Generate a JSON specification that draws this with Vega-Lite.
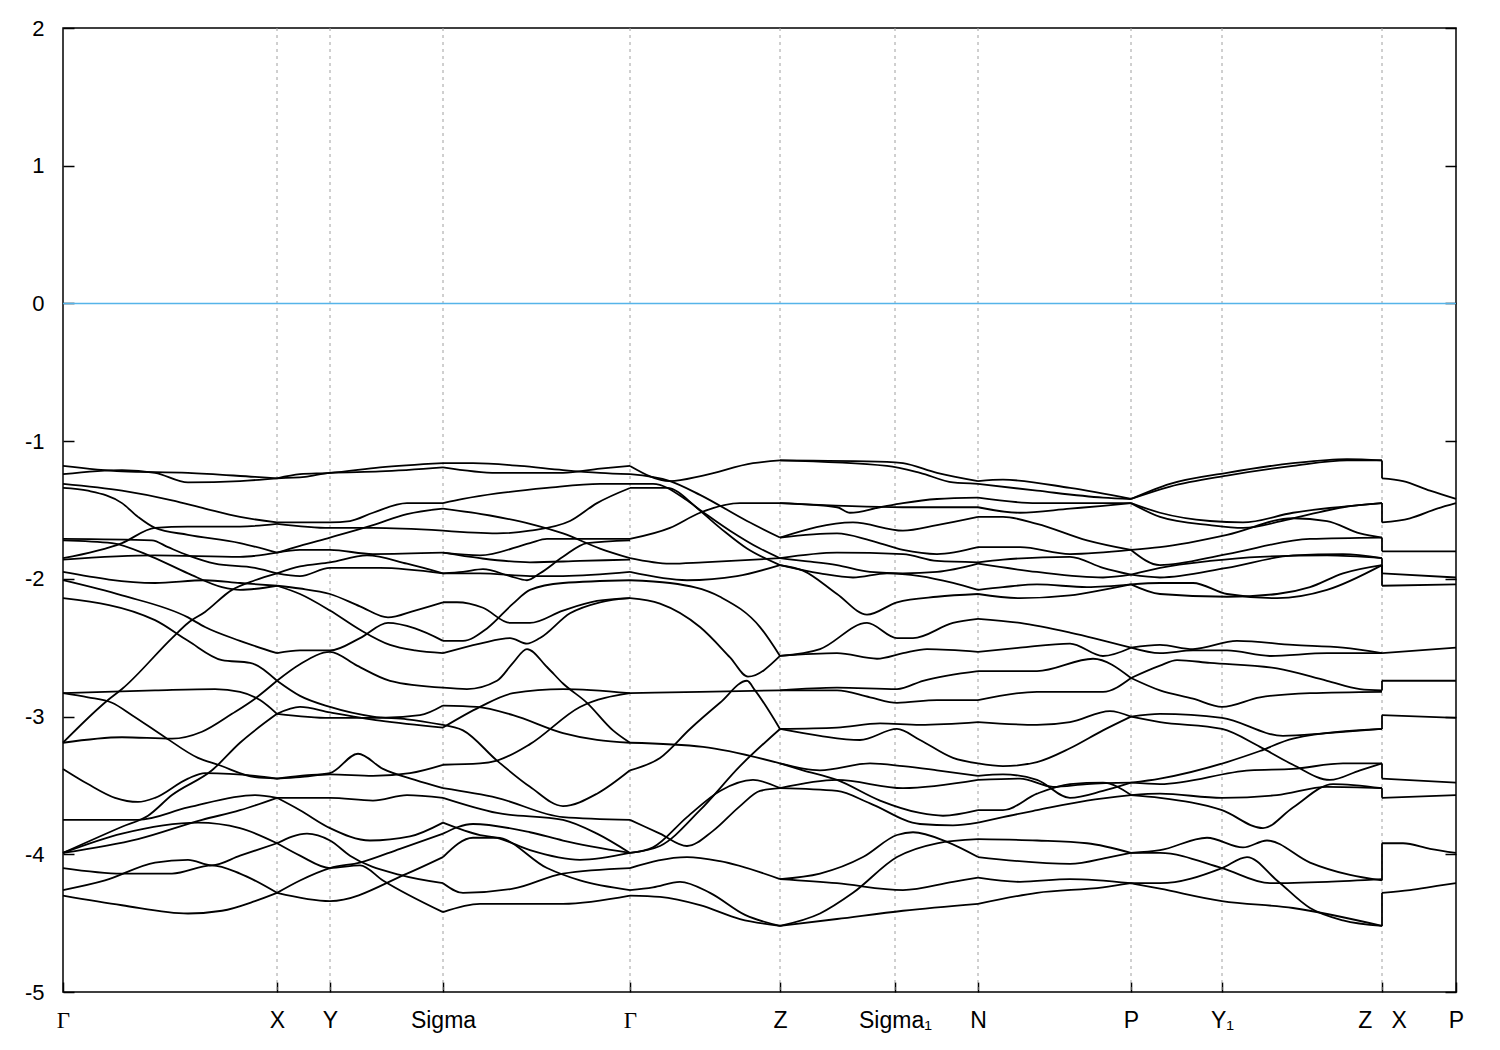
{
"$schema": "https://vega.github.io/schema/vega-lite/v6.json",
"width": 1393, "height": 964,
"autosize": {"type": "none"},
"padding": {"left": 63, "top": 28, "right": 44, "bottom": 58},
"background": "white",
"datasets": {
"sym": [{"k":2.14},{"k":2.67},{"k":3.8},{"k":5.67},{"k":7.17},{"k":8.32},{"k":9.15},{"k":10.68},{"k":11.59},{"k":13.19}],
"fermi": [{"e":0}],
"jumps": [
{"s":"J1","k":13.19,"e":-1.14},{"s":"J1","k":13.19,"e":-1.27},
{"s":"J2","k":13.19,"e":-1.45},{"s":"J2","k":13.19,"e":-1.59},
{"s":"J3","k":13.19,"e":-1.70},{"s":"J3","k":13.19,"e":-1.80},
{"s":"J4","k":13.19,"e":-1.85},{"s":"J4","k":13.19,"e":-1.96},
{"s":"J5","k":13.19,"e":-1.90},{"s":"J5","k":13.19,"e":-2.05},
{"s":"J6","k":13.19,"e":-2.81},{"s":"J6","k":13.19,"e":-2.74},
{"s":"J7","k":13.19,"e":-3.09},{"s":"J7","k":13.19,"e":-2.99},
{"s":"J8","k":13.19,"e":-3.34},{"s":"J8","k":13.19,"e":-3.45},
{"s":"J9","k":13.19,"e":-3.52},{"s":"J9","k":13.19,"e":-3.59},
{"s":"J10","k":13.19,"e":-4.19},{"s":"J10","k":13.19,"e":-3.92},
{"s":"J11","k":13.19,"e":-4.52},{"s":"J11","k":13.19,"e":-4.28}
],
"bands": [
{"s":"A1","k":0,"e":-1.18},{"s":"A1","k":0.59,"e":-1.22},{"s":"A1","k":1.25,"e":-1.23},{"s":"A1","k":1.92,"e":-1.26},{"s":"A1","k":2.14,"e":-1.27},
{"s":"A2","k":0,"e":-1.24},{"s":"A2","k":0.59,"e":-1.21},{"s":"A2","k":0.92,"e":-1.23},{"s":"A2","k":1.25,"e":-1.30},{"s":"A2","k":1.77,"e":-1.29},{"s":"A2","k":2.14,"e":-1.27},
{"s":"A3","k":0,"e":-1.31},{"s":"A3","k":0.59,"e":-1.36},{"s":"A3","k":1.09,"e":-1.43},{"s":"A3","k":1.42,"e":-1.49},{"s":"A3","k":1.77,"e":-1.55},{"s":"A3","k":2.14,"e":-1.59},
{"s":"A4","k":0,"e":-1.34},{"s":"A4","k":0.25,"e":-1.36},{"s":"A4","k":0.59,"e":-1.45},{"s":"A4","k":0.75,"e":-1.55},{"s":"A4","k":0.92,"e":-1.63},{"s":"A4","k":1.25,"e":-1.68},{"s":"A4","k":1.77,"e":-1.74},{"s":"A4","k":2.14,"e":-1.81},
{"s":"A5","k":0,"e":-1.85},{"s":"A5","k":0.59,"e":-1.74},{"s":"A5","k":0.92,"e":-1.63},{"s":"A5","k":1.25,"e":-1.62},{"s":"A5","k":1.77,"e":-1.62},{"s":"A5","k":2.14,"e":-1.60},
{"s":"A6","k":0,"e":-1.71},{"s":"A6","k":0.89,"e":-1.72},{"s":"A6","k":1.05,"e":-1.77},{"s":"A6","k":1.25,"e":-1.83},{"s":"A6","k":1.52,"e":-1.89},{"s":"A6","k":1.92,"e":-1.92},{"s":"A6","k":2.14,"e":-1.96},
{"s":"A7","k":0,"e":-1.72},{"s":"A7","k":0.49,"e":-1.74},{"s":"A7","k":0.89,"e":-1.84},{"s":"A7","k":1.25,"e":-1.96},{"s":"A7","k":1.59,"e":-2.06},{"s":"A7","k":1.77,"e":-2.08},{"s":"A7","k":2.14,"e":-2.05},
{"s":"A8","k":0,"e":-1.86},{"s":"A8","k":0.92,"e":-1.83},{"s":"A8","k":1.77,"e":-1.84},{"s":"A8","k":2.14,"e":-1.81},
{"s":"A9","k":0,"e":-1.95},{"s":"A9","k":0.92,"e":-2.03},{"s":"A9","k":1.42,"e":-2.01},{"s":"A9","k":1.77,"e":-2.03},{"s":"A9","k":2.14,"e":-2.05},
{"s":"A10","k":0,"e":-2.01},{"s":"A10","k":0.59,"e":-2.12},{"s":"A10","k":1.25,"e":-2.28},{"s":"A10","k":1.42,"e":-2.35},{"s":"A10","k":1.77,"e":-2.45},{"s":"A10","k":2.14,"e":-2.54},
{"s":"A11","k":0,"e":-2.14},{"s":"A11","k":0.92,"e":-2.30},{"s":"A11","k":1.25,"e":-2.45},{"s":"A11","k":1.59,"e":-2.59},{"s":"A11","k":1.87,"e":-2.61},{"s":"A11","k":2.14,"e":-2.74},
{"s":"A12","k":0,"e":-3.19},{"s":"A12","k":0.45,"e":-2.88},{"s":"A12","k":0.59,"e":-2.80},{"s":"A12","k":1.09,"e":-2.43},{"s":"A12","k":1.25,"e":-2.32},{"s":"A12","k":1.42,"e":-2.24},{"s":"A12","k":1.69,"e":-2.08},{"s":"A12","k":1.92,"e":-2.01},{"s":"A12","k":2.14,"e":-1.96},
{"s":"A13","k":0,"e":-3.19},{"s":"A13","k":0.59,"e":-3.15},{"s":"A13","k":1.09,"e":-3.16},{"s":"A13","k":1.39,"e":-3.11},{"s":"A13","k":1.69,"e":-2.98},{"s":"A13","k":1.92,"e":-2.87},{"s":"A13","k":2.14,"e":-2.74},
{"s":"A14","k":0,"e":-2.83},{"s":"A14","k":0.92,"e":-2.81},{"s":"A14","k":1.52,"e":-2.80},{"s":"A14","k":1.77,"e":-2.82},{"s":"A14","k":1.97,"e":-2.88},{"s":"A14","k":2.14,"e":-2.98},
{"s":"A15","k":0,"e":-2.83},{"s":"A15","k":0.25,"e":-2.86},{"s":"A15","k":0.49,"e":-2.90},{"s":"A15","k":0.69,"e":-2.99},{"s":"A15","k":1.02,"e":-3.15},{"s":"A15","k":1.35,"e":-3.30},{"s":"A15","k":1.55,"e":-3.35},{"s":"A15","k":1.92,"e":-3.44},{"s":"A15","k":2.14,"e":-3.45},
{"s":"A16","k":0,"e":-3.38},{"s":"A16","k":0.25,"e":-3.49},{"s":"A16","k":0.52,"e":-3.59},{"s":"A16","k":0.75,"e":-3.62},{"s":"A16","k":0.92,"e":-3.59},{"s":"A16","k":1.25,"e":-3.45},{"s":"A16","k":1.42,"e":-3.41},{"s":"A16","k":1.92,"e":-3.43},{"s":"A16","k":2.14,"e":-3.45},
{"s":"A17","k":0,"e":-3.75},{"s":"A17","k":0.75,"e":-3.75},{"s":"A17","k":1.25,"e":-3.66},{"s":"A17","k":1.92,"e":-3.57},{"s":"A17","k":2.14,"e":-3.59},
{"s":"A18","k":0,"e":-3.99},{"s":"A18","k":0.59,"e":-3.80},{"s":"A18","k":0.85,"e":-3.72},{"s":"A18","k":1.09,"e":-3.57},{"s":"A18","k":1.49,"e":-3.39},{"s":"A18","k":1.77,"e":-3.19},{"s":"A18","k":2.14,"e":-2.98},
{"s":"A19","k":0,"e":-3.99},{"s":"A19","k":0.59,"e":-3.85},{"s":"A19","k":1.35,"e":-3.77},{"s":"A19","k":1.77,"e":-3.81},{"s":"A19","k":2.14,"e":-3.92},
{"s":"A20","k":0,"e":-3.99},{"s":"A20","k":0.75,"e":-3.89},{"s":"A20","k":1.39,"e":-3.75},{"s":"A20","k":1.77,"e":-3.68},{"s":"A20","k":2.14,"e":-3.59},
{"s":"A21","k":0,"e":-4.26},{"s":"A21","k":0.42,"e":-4.19},{"s":"A21","k":0.92,"e":-4.06},{"s":"A21","k":1.25,"e":-4.04},{"s":"A21","k":1.49,"e":-4.08},{"s":"A21","k":1.77,"e":-4.01},{"s":"A21","k":2.14,"e":-3.92},
{"s":"A22","k":0,"e":-4.10},{"s":"A22","k":0.59,"e":-4.14},{"s":"A22","k":1.09,"e":-4.14},{"s":"A22","k":1.49,"e":-4.08},{"s":"A22","k":1.77,"e":-4.14},{"s":"A22","k":2.14,"e":-4.28},
{"s":"A23","k":0,"e":-4.30},{"s":"A23","k":0.59,"e":-4.37},{"s":"A23","k":1.25,"e":-4.43},{"s":"A23","k":1.59,"e":-4.41},{"s":"A23","k":1.92,"e":-4.34},{"s":"A23","k":2.14,"e":-4.28},

{"s":"B1","k":2.14,"e":-1.27},{"s":"B1","k":2.37,"e":-1.24},{"s":"B1","k":2.67,"e":-1.23},{"s":"B1","k":3.17,"e":-1.19},{"s":"B1","k":3.8,"e":-1.16},
{"s":"B2","k":2.14,"e":-1.27},{"s":"B2","k":2.42,"e":-1.26},{"s":"B2","k":2.67,"e":-1.23},{"s":"B2","k":3.17,"e":-1.22},{"s":"B2","k":3.8,"e":-1.19},
{"s":"B3","k":2.14,"e":-1.59},{"s":"B3","k":2.67,"e":-1.59},{"s":"B3","k":2.87,"e":-1.58},{"s":"B3","k":3.10,"e":-1.52},{"s":"B3","k":3.44,"e":-1.45},{"s":"B3","k":3.8,"e":-1.45},
{"s":"B4","k":2.14,"e":-1.60},{"s":"B4","k":2.67,"e":-1.63},{"s":"B4","k":3.10,"e":-1.63},{"s":"B4","k":3.8,"e":-1.65},
{"s":"B5","k":2.14,"e":-1.81},{"s":"B5","k":2.37,"e":-1.76},{"s":"B5","k":2.67,"e":-1.70},{"s":"B5","k":3.10,"e":-1.61},{"s":"B5","k":3.44,"e":-1.53},{"s":"B5","k":3.8,"e":-1.49},
{"s":"B6","k":2.14,"e":-1.81},{"s":"B6","k":2.37,"e":-1.79},{"s":"B6","k":2.67,"e":-1.79},{"s":"B6","k":3.10,"e":-1.82},{"s":"B6","k":3.8,"e":-1.81},
{"s":"B7","k":2.14,"e":-1.96},{"s":"B7","k":2.37,"e":-1.91},{"s":"B7","k":2.67,"e":-1.88},{"s":"B7","k":3.04,"e":-1.83},{"s":"B7","k":3.44,"e":-1.89},{"s":"B7","k":3.8,"e":-1.96},
{"s":"B8","k":2.14,"e":-1.96},{"s":"B8","k":2.37,"e":-1.98},{"s":"B8","k":2.67,"e":-1.92},{"s":"B8","k":3.17,"e":-1.92},{"s":"B8","k":3.8,"e":-1.96},
{"s":"B9","k":2.14,"e":-2.05},{"s":"B9","k":2.37,"e":-2.07},{"s":"B9","k":2.67,"e":-2.11},{"s":"B9","k":2.97,"e":-2.20},{"s":"B9","k":3.25,"e":-2.28},{"s":"B9","k":3.52,"e":-2.23},{"s":"B9","k":3.8,"e":-2.17},
{"s":"B10","k":2.14,"e":-2.05},{"s":"B10","k":2.37,"e":-2.11},{"s":"B10","k":2.67,"e":-2.23},{"s":"B10","k":2.97,"e":-2.37},{"s":"B10","k":3.27,"e":-2.48},{"s":"B10","k":3.52,"e":-2.52},{"s":"B10","k":3.8,"e":-2.54},
{"s":"B11","k":2.14,"e":-2.54},{"s":"B11","k":2.37,"e":-2.52},{"s":"B11","k":2.67,"e":-2.52},{"s":"B11","k":2.97,"e":-2.43},{"s":"B11","k":3.25,"e":-2.32},{"s":"B11","k":3.52,"e":-2.36},{"s":"B11","k":3.8,"e":-2.45},
{"s":"B12","k":2.14,"e":-2.74},{"s":"B12","k":2.37,"e":-2.62},{"s":"B12","k":2.67,"e":-2.53},{"s":"B12","k":2.94,"e":-2.63},{"s":"B12","k":3.27,"e":-2.74},{"s":"B12","k":3.8,"e":-2.79},
{"s":"B13","k":2.14,"e":-2.74},{"s":"B13","k":2.37,"e":-2.85},{"s":"B13","k":2.67,"e":-2.93},{"s":"B13","k":3.10,"e":-3.00},{"s":"B13","k":3.44,"e":-3.02},{"s":"B13","k":3.8,"e":-3.06},
{"s":"B14","k":2.14,"e":-2.98},{"s":"B14","k":2.67,"e":-3.01},{"s":"B14","k":3.17,"e":-3.01},{"s":"B14","k":3.57,"e":-2.99},{"s":"B14","k":3.8,"e":-2.92},
{"s":"B15","k":2.14,"e":-2.98},{"s":"B15","k":2.37,"e":-2.93},{"s":"B15","k":2.67,"e":-2.97},{"s":"B15","k":3.17,"e":-3.03},{"s":"B15","k":3.8,"e":-3.08},
{"s":"B16","k":2.14,"e":-3.45},{"s":"B16","k":2.37,"e":-3.43},{"s":"B16","k":2.67,"e":-3.41},{"s":"B16","k":2.95,"e":-3.27},{"s":"B16","k":3.20,"e":-3.38},{"s":"B16","k":3.52,"e":-3.46},{"s":"B16","k":3.8,"e":-3.52},
{"s":"B17","k":2.14,"e":-3.45},{"s":"B17","k":2.37,"e":-3.44},{"s":"B17","k":2.67,"e":-3.42},{"s":"B17","k":3.10,"e":-3.43},{"s":"B17","k":3.47,"e":-3.41},{"s":"B17","k":3.8,"e":-3.35},
{"s":"B18","k":2.14,"e":-3.59},{"s":"B18","k":2.67,"e":-3.59},{"s":"B18","k":3.10,"e":-3.61},{"s":"B18","k":3.44,"e":-3.57},{"s":"B18","k":3.8,"e":-3.59},
{"s":"B19","k":2.14,"e":-3.59},{"s":"B19","k":2.37,"e":-3.68},{"s":"B19","k":2.67,"e":-3.81},{"s":"B19","k":3.07,"e":-3.90},{"s":"B19","k":3.47,"e":-3.87},{"s":"B19","k":3.8,"e":-3.77},
{"s":"B20","k":2.14,"e":-3.92},{"s":"B20","k":2.44,"e":-3.85},{"s":"B20","k":2.67,"e":-3.90},{"s":"B20","k":2.87,"e":-4.01},{"s":"B20","k":3.37,"e":-4.15},{"s":"B20","k":3.8,"e":-4.21},
{"s":"B21","k":2.14,"e":-3.92},{"s":"B21","k":2.37,"e":-4.01},{"s":"B21","k":2.67,"e":-4.10},{"s":"B21","k":2.97,"e":-4.08},{"s":"B21","k":3.20,"e":-4.19},{"s":"B21","k":3.8,"e":-4.42},
{"s":"B22","k":2.14,"e":-4.28},{"s":"B22","k":2.67,"e":-4.34},{"s":"B22","k":3.44,"e":-4.14},{"s":"B22","k":3.8,"e":-4.02},
{"s":"B23","k":2.14,"e":-4.28},{"s":"B23","k":2.37,"e":-4.19},{"s":"B23","k":2.67,"e":-4.10},{"s":"B23","k":2.97,"e":-4.06},{"s":"B23","k":3.37,"e":-3.96},{"s":"B23","k":3.8,"e":-3.85},

{"s":"C1","k":3.8,"e":-1.16},{"s":"C1","k":4.10,"e":-1.16},{"s":"C1","k":4.57,"e":-1.18},{"s":"C1","k":5.00,"e":-1.21},{"s":"C1","k":5.37,"e":-1.23},{"s":"C1","k":5.67,"e":-1.24},
{"s":"C2","k":3.8,"e":-1.19},{"s":"C2","k":4.34,"e":-1.23},{"s":"C2","k":5.00,"e":-1.23},{"s":"C2","k":5.37,"e":-1.20},{"s":"C2","k":5.67,"e":-1.18},
{"s":"C3","k":3.8,"e":-1.45},{"s":"C3","k":4.00,"e":-1.42},{"s":"C3","k":4.34,"e":-1.38},{"s":"C3","k":4.84,"e":-1.34},{"s":"C3","k":5.37,"e":-1.31},{"s":"C3","k":5.67,"e":-1.31},
{"s":"C4","k":3.8,"e":-1.49},{"s":"C4","k":4.27,"e":-1.54},{"s":"C4","k":4.67,"e":-1.60},{"s":"C4","k":5.00,"e":-1.67},{"s":"C4","k":5.37,"e":-1.78},{"s":"C4","k":5.67,"e":-1.85},
{"s":"C5","k":3.8,"e":-1.65},{"s":"C5","k":4.34,"e":-1.67},{"s":"C5","k":4.67,"e":-1.65},{"s":"C5","k":5.07,"e":-1.58},{"s":"C5","k":5.34,"e":-1.45},{"s":"C5","k":5.67,"e":-1.34},
{"s":"C6","k":3.8,"e":-1.81},{"s":"C6","k":4.17,"e":-1.85},{"s":"C6","k":4.67,"e":-1.88},{"s":"C6","k":5.17,"e":-1.87},{"s":"C6","k":5.67,"e":-1.86},
{"s":"C7","k":3.8,"e":-1.81},{"s":"C7","k":4.17,"e":-1.83},{"s":"C7","k":4.67,"e":-1.74},{"s":"C7","k":4.84,"e":-1.71},{"s":"C7","k":5.67,"e":-1.71},
{"s":"C8","k":3.8,"e":-1.96},{"s":"C8","k":4.00,"e":-1.95},{"s":"C8","k":4.20,"e":-1.93},{"s":"C8","k":4.47,"e":-1.98},{"s":"C8","k":4.64,"e":-2.01},{"s":"C8","k":4.77,"e":-1.96},{"s":"C8","k":5.00,"e":-1.84},{"s":"C8","k":5.24,"e":-1.74},{"s":"C8","k":5.67,"e":-1.72},
{"s":"C9","k":3.8,"e":-1.96},{"s":"C9","k":4.17,"e":-1.96},{"s":"C9","k":4.67,"e":-1.98},{"s":"C9","k":5.00,"e":-1.98},{"s":"C9","k":5.67,"e":-1.95},
{"s":"C10","k":3.8,"e":-2.17},{"s":"C10","k":3.94,"e":-2.17},{"s":"C10","k":4.20,"e":-2.21},{"s":"C10","k":4.47,"e":-2.32},{"s":"C10","k":4.67,"e":-2.32},{"s":"C10","k":5.00,"e":-2.23},{"s":"C10","k":5.34,"e":-2.16},{"s":"C10","k":5.67,"e":-2.14},
{"s":"C11","k":3.8,"e":-2.45},{"s":"C11","k":4.00,"e":-2.45},{"s":"C11","k":4.24,"e":-2.36},{"s":"C11","k":4.50,"e":-2.18},{"s":"C11","k":4.67,"e":-2.08},{"s":"C11","k":5.00,"e":-2.03},{"s":"C11","k":5.67,"e":-2.01},
{"s":"C12","k":3.8,"e":-2.54},{"s":"C12","k":4.17,"e":-2.47},{"s":"C12","k":4.47,"e":-2.43},{"s":"C12","k":4.64,"e":-2.47},{"s":"C12","k":4.77,"e":-2.43},{"s":"C12","k":5.07,"e":-2.25},{"s":"C12","k":5.37,"e":-2.17},{"s":"C12","k":5.67,"e":-2.14},
{"s":"C13","k":3.8,"e":-2.79},{"s":"C13","k":4.04,"e":-2.80},{"s":"C13","k":4.34,"e":-2.74},{"s":"C13","k":4.50,"e":-2.61},{"s":"C13","k":4.64,"e":-2.51},{"s":"C13","k":4.84,"e":-2.64},{"s":"C13","k":5.00,"e":-2.76},{"s":"C13","k":5.24,"e":-2.90},{"s":"C13","k":5.50,"e":-3.10},{"s":"C13","k":5.67,"e":-3.19},
{"s":"C14","k":3.8,"e":-2.92},{"s":"C14","k":4.14,"e":-2.93},{"s":"C14","k":4.50,"e":-2.99},{"s":"C14","k":5.00,"e":-3.12},{"s":"C14","k":5.34,"e":-3.17},{"s":"C14","k":5.67,"e":-3.19},
{"s":"C15","k":3.8,"e":-3.08},{"s":"C15","k":4.17,"e":-2.93},{"s":"C15","k":4.50,"e":-2.83},{"s":"C15","k":5.00,"e":-2.80},{"s":"C15","k":5.67,"e":-2.83},
{"s":"C16","k":3.8,"e":-3.06},{"s":"C16","k":4.00,"e":-3.10},{"s":"C16","k":4.34,"e":-3.32},{"s":"C16","k":4.67,"e":-3.51},{"s":"C16","k":5.00,"e":-3.65},{"s":"C16","k":5.34,"e":-3.56},{"s":"C16","k":5.67,"e":-3.39},
{"s":"C17","k":3.8,"e":-3.35},{"s":"C17","k":4.17,"e":-3.34},{"s":"C17","k":4.34,"e":-3.32},{"s":"C17","k":4.67,"e":-3.20},{"s":"C17","k":5.17,"e":-2.93},{"s":"C17","k":5.67,"e":-2.83},
{"s":"C18","k":3.8,"e":-3.52},{"s":"C18","k":4.34,"e":-3.59},{"s":"C18","k":5.00,"e":-3.73},{"s":"C18","k":5.67,"e":-3.75},
{"s":"C19","k":3.8,"e":-3.59},{"s":"C19","k":4.34,"e":-3.70},{"s":"C19","k":5.00,"e":-3.75},{"s":"C19","k":5.34,"e":-3.85},{"s":"C19","k":5.67,"e":-3.99},
{"s":"C20","k":3.8,"e":-3.77},{"s":"C20","k":4.17,"e":-3.86},{"s":"C20","k":4.34,"e":-3.88},{"s":"C20","k":4.67,"e":-3.97},{"s":"C20","k":5.17,"e":-4.04},{"s":"C20","k":5.67,"e":-3.99},
{"s":"C21","k":3.8,"e":-3.85},{"s":"C21","k":4.10,"e":-3.78},{"s":"C21","k":4.67,"e":-3.84},{"s":"C21","k":5.00,"e":-3.90},{"s":"C21","k":5.67,"e":-3.99},
{"s":"C22","k":3.8,"e":-4.02},{"s":"C22","k":4.10,"e":-3.88},{"s":"C22","k":4.34,"e":-3.88},{"s":"C22","k":4.84,"e":-4.10},{"s":"C22","k":5.17,"e":-4.19},{"s":"C22","k":5.67,"e":-4.26},
{"s":"C23","k":3.8,"e":-4.21},{"s":"C23","k":4.00,"e":-4.28},{"s":"C23","k":4.50,"e":-4.25},{"s":"C23","k":5.00,"e":-4.14},{"s":"C23","k":5.67,"e":-4.10},
{"s":"C24","k":3.8,"e":-4.42},{"s":"C24","k":4.17,"e":-4.36},{"s":"C24","k":5.00,"e":-4.36},{"s":"C24","k":5.67,"e":-4.30},

{"s":"D1","k":5.67,"e":-1.18},{"s":"D1","k":6.07,"e":-1.29},{"s":"D1","k":6.40,"e":-1.25},{"s":"D1","k":6.90,"e":-1.16},{"s":"D1","k":7.17,"e":-1.14},
{"s":"D2","k":5.67,"e":-1.24},{"s":"D2","k":6.07,"e":-1.29},{"s":"D2","k":6.37,"e":-1.39},{"s":"D2","k":6.84,"e":-1.58},{"s":"D2","k":7.17,"e":-1.70},
{"s":"D3","k":5.67,"e":-1.31},{"s":"D3","k":5.90,"e":-1.31},{"s":"D3","k":6.24,"e":-1.43},{"s":"D3","k":6.57,"e":-1.63},{"s":"D3","k":6.84,"e":-1.78},{"s":"D3","k":7.17,"e":-1.90},
{"s":"D4","k":5.67,"e":-1.34},{"s":"D4","k":6.04,"e":-1.34},{"s":"D4","k":6.37,"e":-1.50},{"s":"D4","k":6.67,"e":-1.65},{"s":"D4","k":6.97,"e":-1.78},{"s":"D4","k":7.17,"e":-1.85},
{"s":"D5","k":5.67,"e":-1.71},{"s":"D5","k":6.07,"e":-1.63},{"s":"D5","k":6.37,"e":-1.52},{"s":"D5","k":6.77,"e":-1.45},{"s":"D5","k":7.17,"e":-1.45},
{"s":"D6","k":5.67,"e":-1.85},{"s":"D6","k":6.07,"e":-1.89},{"s":"D6","k":6.40,"e":-1.88},{"s":"D6","k":7.17,"e":-1.85},
{"s":"D7","k":5.67,"e":-1.95},{"s":"D7","k":6.24,"e":-2.01},{"s":"D7","k":6.74,"e":-1.98},{"s":"D7","k":7.17,"e":-1.90},
{"s":"D8","k":5.67,"e":-2.01},{"s":"D8","k":6.07,"e":-2.03},{"s":"D8","k":6.57,"e":-2.13},{"s":"D8","k":6.97,"e":-2.35},{"s":"D8","k":7.17,"e":-2.56},
{"s":"D9","k":5.67,"e":-2.14},{"s":"D9","k":5.97,"e":-2.18},{"s":"D9","k":6.37,"e":-2.35},{"s":"D9","k":6.67,"e":-2.57},{"s":"D9","k":6.85,"e":-2.71},{"s":"D9","k":7.17,"e":-2.56},
{"s":"D10","k":5.67,"e":-3.39},{"s":"D10","k":5.97,"e":-3.30},{"s":"D10","k":6.27,"e":-3.09},{"s":"D10","k":6.57,"e":-2.90},{"s":"D10","k":6.84,"e":-2.74},{"s":"D10","k":6.92,"e":-2.81},{"s":"D10","k":7.17,"e":-3.09},
{"s":"D11","k":5.67,"e":-2.83},{"s":"D11","k":6.37,"e":-2.82},{"s":"D11","k":7.17,"e":-2.81},
{"s":"D12","k":5.67,"e":-3.19},{"s":"D12","k":6.40,"e":-3.22},{"s":"D12","k":7.17,"e":-3.34},
{"s":"D13","k":5.67,"e":-3.75},{"s":"D13","k":5.97,"e":-3.85},{"s":"D13","k":6.24,"e":-3.94},{"s":"D13","k":6.50,"e":-3.83},{"s":"D13","k":6.77,"e":-3.65},{"s":"D13","k":6.97,"e":-3.54},{"s":"D13","k":7.17,"e":-3.52},
{"s":"D14","k":5.67,"e":-3.99},{"s":"D14","k":5.90,"e":-3.95},{"s":"D14","k":6.24,"e":-3.73},{"s":"D14","k":6.57,"e":-3.54},{"s":"D14","k":6.90,"e":-3.46},{"s":"D14","k":7.17,"e":-3.52},
{"s":"D15","k":5.67,"e":-3.99},{"s":"D15","k":5.97,"e":-3.94},{"s":"D15","k":6.37,"e":-3.68},{"s":"D15","k":6.77,"e":-3.36},{"s":"D15","k":7.17,"e":-3.09},
{"s":"D16","k":5.67,"e":-4.10},{"s":"D16","k":6.24,"e":-4.02},{"s":"D16","k":6.57,"e":-4.05},{"s":"D16","k":7.17,"e":-4.18},
{"s":"D17","k":5.67,"e":-4.26},{"s":"D17","k":5.90,"e":-4.24},{"s":"D17","k":6.17,"e":-4.20},{"s":"D17","k":6.47,"e":-4.28},{"s":"D17","k":6.82,"e":-4.44},{"s":"D17","k":7.17,"e":-4.52},
{"s":"D18","k":5.67,"e":-4.30},{"s":"D18","k":5.97,"e":-4.31},{"s":"D18","k":6.37,"e":-4.37},{"s":"D18","k":6.77,"e":-4.47},{"s":"D18","k":7.17,"e":-4.52},

{"s":"E1","k":7.17,"e":-1.14},{"s":"E1","k":8.24,"e":-1.15},{"s":"E1","k":8.40,"e":-1.16},{"s":"E1","k":8.74,"e":-1.23},{"s":"E1","k":9.15,"e":-1.29},
{"s":"E2","k":7.17,"e":-1.14},{"s":"E2","k":8.24,"e":-1.18},{"s":"E2","k":8.57,"e":-1.23},{"s":"E2","k":8.90,"e":-1.30},{"s":"E2","k":9.15,"e":-1.31},
{"s":"E3","k":7.17,"e":-1.45},{"s":"E3","k":7.74,"e":-1.48},{"s":"E3","k":7.87,"e":-1.52},{"s":"E3","k":8.17,"e":-1.48},{"s":"E3","k":8.40,"e":-1.45},{"s":"E3","k":8.74,"e":-1.42},{"s":"E3","k":9.15,"e":-1.41},
{"s":"E4","k":7.17,"e":-1.45},{"s":"E4","k":8.40,"e":-1.48},{"s":"E4","k":9.15,"e":-1.48},
{"s":"E5","k":7.17,"e":-1.70},{"s":"E5","k":7.90,"e":-1.59},{"s":"E5","k":8.40,"e":-1.65},{"s":"E5","k":8.74,"e":-1.61},{"s":"E5","k":9.15,"e":-1.55},
{"s":"E6","k":7.17,"e":-1.70},{"s":"E6","k":7.74,"e":-1.67},{"s":"E6","k":8.07,"e":-1.72},{"s":"E6","k":8.40,"e":-1.79},{"s":"E6","k":8.74,"e":-1.82},{"s":"E6","k":9.15,"e":-1.77},
{"s":"E7","k":7.17,"e":-1.85},{"s":"E7","k":7.74,"e":-1.81},{"s":"E7","k":8.40,"e":-1.82},{"s":"E7","k":8.74,"e":-1.87},{"s":"E7","k":9.15,"e":-1.88},
{"s":"E8","k":7.17,"e":-1.85},{"s":"E8","k":7.40,"e":-1.87},{"s":"E8","k":7.74,"e":-1.90},{"s":"E8","k":8.07,"e":-1.95},{"s":"E8","k":8.40,"e":-1.96},{"s":"E8","k":8.74,"e":-1.95},{"s":"E8","k":9.15,"e":-1.89},
{"s":"E9","k":7.17,"e":-1.90},{"s":"E9","k":7.57,"e":-1.96},{"s":"E9","k":7.90,"e":-1.99},{"s":"E9","k":8.24,"e":-1.96},{"s":"E9","k":8.57,"e":-1.98},{"s":"E9","k":8.90,"e":-2.03},{"s":"E9","k":9.15,"e":-2.08},
{"s":"E10","k":7.17,"e":-1.90},{"s":"E10","k":7.40,"e":-1.94},{"s":"E10","k":7.74,"e":-2.11},{"s":"E10","k":8.04,"e":-2.26},{"s":"E10","k":8.34,"e":-2.17},{"s":"E10","k":8.74,"e":-2.13},{"s":"E10","k":9.15,"e":-2.11},
{"s":"E11","k":7.17,"e":-2.56},{"s":"E11","k":7.57,"e":-2.51},{"s":"E11","k":8.04,"e":-2.32},{"s":"E11","k":8.34,"e":-2.43},{"s":"E11","k":8.50,"e":-2.43},{"s":"E11","k":8.90,"e":-2.32},{"s":"E11","k":9.15,"e":-2.29},
{"s":"E12","k":7.17,"e":-2.56},{"s":"E12","k":7.74,"e":-2.54},{"s":"E12","k":8.14,"e":-2.58},{"s":"E12","k":8.40,"e":-2.54},{"s":"E12","k":8.64,"e":-2.51},{"s":"E12","k":9.15,"e":-2.53},
{"s":"E13","k":7.17,"e":-2.81},{"s":"E13","k":7.74,"e":-2.79},{"s":"E13","k":8.34,"e":-2.80},{"s":"E13","k":8.60,"e":-2.74},{"s":"E13","k":9.15,"e":-2.67},
{"s":"E14","k":7.17,"e":-2.81},{"s":"E14","k":7.74,"e":-2.81},{"s":"E14","k":8.07,"e":-2.86},{"s":"E14","k":8.34,"e":-2.90},{"s":"E14","k":8.74,"e":-2.88},{"s":"E14","k":9.15,"e":-2.88},
{"s":"E15","k":7.17,"e":-3.09},{"s":"E15","k":7.74,"e":-3.08},{"s":"E15","k":8.17,"e":-3.05},{"s":"E15","k":8.57,"e":-3.06},{"s":"E15","k":9.15,"e":-3.04},
{"s":"E16","k":7.17,"e":-3.09},{"s":"E16","k":7.57,"e":-3.14},{"s":"E16","k":7.97,"e":-3.17},{"s":"E16","k":8.34,"e":-3.09},{"s":"E16","k":8.57,"e":-3.17},{"s":"E16","k":8.90,"e":-3.30},{"s":"E16","k":9.15,"e":-3.34},
{"s":"E17","k":7.17,"e":-3.34},{"s":"E17","k":7.57,"e":-3.39},{"s":"E17","k":8.07,"e":-3.34},{"s":"E17","k":8.40,"e":-3.36},{"s":"E17","k":8.74,"e":-3.39},{"s":"E17","k":9.15,"e":-3.43},
{"s":"E18","k":7.17,"e":-3.52},{"s":"E18","k":7.74,"e":-3.46},{"s":"E18","k":8.40,"e":-3.52},{"s":"E18","k":9.15,"e":-3.46},
{"s":"E19","k":7.17,"e":-3.52},{"s":"E19","k":7.74,"e":-3.54},{"s":"E19","k":8.07,"e":-3.63},{"s":"E19","k":8.57,"e":-3.78},{"s":"E19","k":8.90,"e":-3.79},{"s":"E19","k":9.15,"e":-3.77},
{"s":"E20","k":7.17,"e":-3.34},{"s":"E20","k":7.40,"e":-3.39},{"s":"E20","k":7.74,"e":-3.46},{"s":"E20","k":8.17,"e":-3.61},{"s":"E20","k":8.57,"e":-3.70},{"s":"E20","k":8.80,"e":-3.72},{"s":"E20","k":9.15,"e":-3.68},
{"s":"E21","k":7.17,"e":-4.18},{"s":"E21","k":7.57,"e":-4.14},{"s":"E21","k":8.00,"e":-4.02},{"s":"E21","k":8.34,"e":-3.86},{"s":"E21","k":8.50,"e":-3.84},{"s":"E21","k":8.84,"e":-3.91},{"s":"E21","k":9.15,"e":-4.02},
{"s":"E22","k":7.17,"e":-4.52},{"s":"E22","k":7.57,"e":-4.43},{"s":"E22","k":7.90,"e":-4.28},{"s":"E22","k":8.34,"e":-4.02},{"s":"E22","k":8.74,"e":-3.92},{"s":"E22","k":9.15,"e":-3.89},
{"s":"E23","k":7.17,"e":-4.18},{"s":"E23","k":7.74,"e":-4.21},{"s":"E23","k":8.40,"e":-4.26},{"s":"E23","k":8.90,"e":-4.20},{"s":"E23","k":9.15,"e":-4.17},
{"s":"E24","k":7.17,"e":-4.52},{"s":"E24","k":7.74,"e":-4.47},{"s":"E24","k":8.40,"e":-4.41},{"s":"E24","k":9.15,"e":-4.36},

{"s":"F1","k":9.15,"e":-1.29},{"s":"F1","k":9.40,"e":-1.28},{"s":"F1","k":10.07,"e":-1.34},{"s":"F1","k":10.68,"e":-1.42},
{"s":"F2","k":9.15,"e":-1.31},{"s":"F2","k":9.74,"e":-1.36},{"s":"F2","k":10.40,"e":-1.41},{"s":"F2","k":10.68,"e":-1.42},
{"s":"F3","k":9.15,"e":-1.41},{"s":"F3","k":9.74,"e":-1.45},{"s":"F3","k":10.40,"e":-1.45},{"s":"F3","k":10.68,"e":-1.45},
{"s":"F4","k":9.15,"e":-1.48},{"s":"F4","k":9.57,"e":-1.52},{"s":"F4","k":10.07,"e":-1.49},{"s":"F4","k":10.40,"e":-1.47},{"s":"F4","k":10.68,"e":-1.45},
{"s":"F5","k":9.15,"e":-1.55},{"s":"F5","k":9.40,"e":-1.55},{"s":"F5","k":9.74,"e":-1.60},{"s":"F5","k":10.24,"e":-1.72},{"s":"F5","k":10.68,"e":-1.79},
{"s":"F6","k":9.15,"e":-1.77},{"s":"F6","k":9.57,"e":-1.77},{"s":"F6","k":10.07,"e":-1.82},{"s":"F6","k":10.68,"e":-1.79},
{"s":"F7","k":9.15,"e":-1.88},{"s":"F7","k":9.40,"e":-1.86},{"s":"F7","k":10.07,"e":-1.84},{"s":"F7","k":10.40,"e":-1.92},{"s":"F7","k":10.68,"e":-1.97},
{"s":"F8","k":9.15,"e":-1.89},{"s":"F8","k":9.74,"e":-1.95},{"s":"F8","k":10.40,"e":-1.99},{"s":"F8","k":10.68,"e":-1.97},
{"s":"F9","k":9.15,"e":-2.08},{"s":"F9","k":9.40,"e":-2.06},{"s":"F9","k":9.74,"e":-2.04},{"s":"F9","k":10.24,"e":-2.06},{"s":"F9","k":10.68,"e":-2.04},
{"s":"F10","k":9.15,"e":-2.11},{"s":"F10","k":9.57,"e":-2.14},{"s":"F10","k":10.07,"e":-2.12},{"s":"F10","k":10.40,"e":-2.08},{"s":"F10","k":10.68,"e":-2.04},
{"s":"F11","k":9.15,"e":-2.29},{"s":"F11","k":9.57,"e":-2.32},{"s":"F11","k":10.07,"e":-2.39},{"s":"F11","k":10.68,"e":-2.50},
{"s":"F12","k":9.15,"e":-2.53},{"s":"F12","k":9.57,"e":-2.50},{"s":"F12","k":10.07,"e":-2.47},{"s":"F12","k":10.40,"e":-2.56},{"s":"F12","k":10.68,"e":-2.50},
{"s":"F13","k":9.15,"e":-2.67},{"s":"F13","k":9.74,"e":-2.67},{"s":"F13","k":10.30,"e":-2.58},{"s":"F13","k":10.68,"e":-2.72},
{"s":"F14","k":9.15,"e":-2.88},{"s":"F14","k":9.74,"e":-2.82},{"s":"F14","k":10.40,"e":-2.82},{"s":"F14","k":10.68,"e":-2.72},
{"s":"F15","k":9.15,"e":-3.04},{"s":"F15","k":9.74,"e":-3.06},{"s":"F15","k":10.07,"e":-3.04},{"s":"F15","k":10.47,"e":-2.96},{"s":"F15","k":10.68,"e":-3.00},
{"s":"F16","k":9.15,"e":-3.34},{"s":"F16","k":9.40,"e":-3.36},{"s":"F16","k":9.74,"e":-3.33},{"s":"F16","k":10.07,"e":-3.23},{"s":"F16","k":10.40,"e":-3.10},{"s":"F16","k":10.68,"e":-3.00},
{"s":"F17","k":9.15,"e":-3.43},{"s":"F17","k":9.40,"e":-3.42},{"s":"F17","k":9.74,"e":-3.46},{"s":"F17","k":10.07,"e":-3.59},{"s":"F17","k":10.40,"e":-3.54},{"s":"F17","k":10.68,"e":-3.48},
{"s":"F18","k":9.15,"e":-3.46},{"s":"F18","k":9.57,"e":-3.45},{"s":"F18","k":9.90,"e":-3.51},{"s":"F18","k":10.24,"e":-3.49},{"s":"F18","k":10.68,"e":-3.48},
{"s":"F19","k":9.15,"e":-3.68},{"s":"F19","k":9.40,"e":-3.68},{"s":"F19","k":9.74,"e":-3.56},{"s":"F19","k":10.07,"e":-3.49},{"s":"F19","k":10.40,"e":-3.48},{"s":"F19","k":10.68,"e":-3.57},
{"s":"F20","k":9.15,"e":-3.77},{"s":"F20","k":9.40,"e":-3.73},{"s":"F20","k":9.74,"e":-3.68},{"s":"F20","k":10.24,"e":-3.61},{"s":"F20","k":10.68,"e":-3.57},
{"s":"F21","k":9.15,"e":-3.89},{"s":"F21","k":9.74,"e":-3.90},{"s":"F21","k":10.24,"e":-3.92},{"s":"F21","k":10.68,"e":-3.99},
{"s":"F22","k":9.15,"e":-4.02},{"s":"F22","k":10.07,"e":-4.07},{"s":"F22","k":10.47,"e":-4.02},{"s":"F22","k":10.68,"e":-3.99},
{"s":"F23","k":9.15,"e":-4.17},{"s":"F23","k":9.57,"e":-4.20},{"s":"F23","k":10.07,"e":-4.18},{"s":"F23","k":10.68,"e":-4.21},
{"s":"F24","k":9.15,"e":-4.36},{"s":"F24","k":9.74,"e":-4.28},{"s":"F24","k":10.40,"e":-4.24},{"s":"F24","k":10.68,"e":-4.21},

{"s":"G1","k":10.68,"e":-1.42},{"s":"G1","k":11.07,"e":-1.31},{"s":"G1","k":11.64,"e":-1.23},{"s":"G1","k":12.30,"e":-1.16},{"s":"G1","k":12.84,"e":-1.13},{"s":"G1","k":13.19,"e":-1.14},
{"s":"G2","k":10.68,"e":-1.42},{"s":"G2","k":11.07,"e":-1.33},{"s":"G2","k":11.64,"e":-1.25},{"s":"G2","k":12.30,"e":-1.18},{"s":"G2","k":12.84,"e":-1.14},{"s":"G2","k":13.19,"e":-1.14},
{"s":"G3","k":10.68,"e":-1.45},{"s":"G3","k":10.97,"e":-1.52},{"s":"G3","k":11.47,"e":-1.58},{"s":"G3","k":11.80,"e":-1.59},{"s":"G3","k":12.30,"e":-1.52},{"s":"G3","k":13.19,"e":-1.45},
{"s":"G4","k":10.68,"e":-1.45},{"s":"G4","k":10.97,"e":-1.55},{"s":"G4","k":11.47,"e":-1.61},{"s":"G4","k":11.80,"e":-1.63},{"s":"G4","k":12.30,"e":-1.56},{"s":"G4","k":12.80,"e":-1.48},{"s":"G4","k":13.19,"e":-1.45},
{"s":"G5","k":10.68,"e":-1.79},{"s":"G5","k":10.97,"e":-1.77},{"s":"G5","k":11.64,"e":-1.68},{"s":"G5","k":12.30,"e":-1.56},{"s":"G5","k":12.64,"e":-1.58},{"s":"G5","k":12.97,"e":-1.67},{"s":"G5","k":13.19,"e":-1.70},
{"s":"G6","k":10.68,"e":-1.79},{"s":"G6","k":10.97,"e":-1.90},{"s":"G6","k":11.64,"e":-1.82},{"s":"G6","k":12.47,"e":-1.71},{"s":"G6","k":13.19,"e":-1.70},
{"s":"G7","k":10.68,"e":-1.97},{"s":"G7","k":10.97,"e":-1.92},{"s":"G7","k":11.47,"e":-1.87},{"s":"G7","k":11.97,"e":-1.84},{"s":"G7","k":12.64,"e":-1.83},{"s":"G7","k":13.19,"e":-1.85},
{"s":"G8","k":10.68,"e":-1.97},{"s":"G8","k":10.97,"e":-1.99},{"s":"G8","k":11.64,"e":-1.92},{"s":"G8","k":12.30,"e":-1.83},{"s":"G8","k":12.80,"e":-1.82},{"s":"G8","k":13.19,"e":-1.85},
{"s":"G9","k":10.68,"e":-2.04},{"s":"G9","k":10.97,"e":-2.03},{"s":"G9","k":11.30,"e":-2.03},{"s":"G9","k":11.64,"e":-2.11},{"s":"G9","k":12.14,"e":-2.14},{"s":"G9","k":12.64,"e":-2.08},{"s":"G9","k":13.19,"e":-1.90},
{"s":"G10","k":10.68,"e":-2.04},{"s":"G10","k":10.97,"e":-2.11},{"s":"G10","k":11.64,"e":-2.13},{"s":"G10","k":12.14,"e":-2.11},{"s":"G10","k":12.47,"e":-2.06},{"s":"G10","k":12.80,"e":-1.96},{"s":"G10","k":13.19,"e":-1.90},
{"s":"G11","k":10.68,"e":-2.50},{"s":"G11","k":10.97,"e":-2.48},{"s":"G11","k":11.30,"e":-2.51},{"s":"G11","k":11.74,"e":-2.45},{"s":"G11","k":12.30,"e":-2.48},{"s":"G11","k":12.80,"e":-2.50},{"s":"G11","k":13.19,"e":-2.54},
{"s":"G12","k":10.68,"e":-2.50},{"s":"G12","k":10.97,"e":-2.54},{"s":"G12","k":11.30,"e":-2.52},{"s":"G12","k":11.64,"e":-2.52},{"s":"G12","k":12.07,"e":-2.56},{"s":"G12","k":12.64,"e":-2.54},{"s":"G12","k":13.19,"e":-2.54},
{"s":"G13","k":10.68,"e":-2.72},{"s":"G13","k":10.97,"e":-2.63},{"s":"G13","k":11.14,"e":-2.59},{"s":"G13","k":11.47,"e":-2.61},{"s":"G13","k":12.14,"e":-2.65},{"s":"G13","k":12.64,"e":-2.74},{"s":"G13","k":12.97,"e":-2.80},{"s":"G13","k":13.19,"e":-2.81},
{"s":"G14","k":10.68,"e":-2.72},{"s":"G14","k":10.97,"e":-2.81},{"s":"G14","k":11.30,"e":-2.87},{"s":"G14","k":11.59,"e":-2.93},{"s":"G14","k":11.97,"e":-2.86},{"s":"G14","k":12.47,"e":-2.83},{"s":"G14","k":13.19,"e":-2.82},
{"s":"G15","k":10.68,"e":-3.00},{"s":"G15","k":10.97,"e":-2.98},{"s":"G15","k":11.59,"e":-3.01},{"s":"G15","k":12.20,"e":-3.14},{"s":"G15","k":12.64,"e":-3.12},{"s":"G15","k":13.19,"e":-3.09},
{"s":"G16","k":10.68,"e":-3.00},{"s":"G16","k":10.97,"e":-3.04},{"s":"G16","k":11.59,"e":-3.09},{"s":"G16","k":11.97,"e":-3.22},{"s":"G16","k":12.30,"e":-3.35},{"s":"G16","k":12.67,"e":-3.46},{"s":"G16","k":12.97,"e":-3.39},{"s":"G16","k":13.19,"e":-3.34},
{"s":"G17","k":10.68,"e":-3.48},{"s":"G17","k":10.97,"e":-3.45},{"s":"G17","k":11.64,"e":-3.33},{"s":"G17","k":11.97,"e":-3.25},{"s":"G17","k":12.30,"e":-3.16},{"s":"G17","k":13.19,"e":-3.09},
{"s":"G18","k":10.68,"e":-3.48},{"s":"G18","k":10.97,"e":-3.49},{"s":"G18","k":11.87,"e":-3.39},{"s":"G18","k":12.30,"e":-3.38},{"s":"G18","k":12.80,"e":-3.34},{"s":"G18","k":13.19,"e":-3.34},
{"s":"G19","k":10.68,"e":-3.57},{"s":"G19","k":10.97,"e":-3.56},{"s":"G19","k":11.59,"e":-3.59},{"s":"G19","k":12.14,"e":-3.57},{"s":"G19","k":12.64,"e":-3.51},{"s":"G19","k":13.19,"e":-3.52},
{"s":"G20","k":10.68,"e":-3.57},{"s":"G20","k":10.97,"e":-3.59},{"s":"G20","k":11.59,"e":-3.68},{"s":"G20","k":12.00,"e":-3.81},{"s":"G20","k":12.30,"e":-3.66},{"s":"G20","k":12.70,"e":-3.49},{"s":"G20","k":13.19,"e":-3.52},
{"s":"G21","k":10.68,"e":-3.99},{"s":"G21","k":10.97,"e":-3.97},{"s":"G21","k":11.44,"e":-3.88},{"s":"G21","k":11.80,"e":-3.95},{"s":"G21","k":12.04,"e":-3.90},{"s":"G21","k":12.47,"e":-4.06},{"s":"G21","k":12.87,"e":-4.15},{"s":"G21","k":13.19,"e":-4.19},
{"s":"G22","k":10.68,"e":-3.99},{"s":"G22","k":10.97,"e":-3.99},{"s":"G22","k":11.59,"e":-4.10},{"s":"G22","k":12.07,"e":-4.21},{"s":"G22","k":12.64,"e":-4.20},{"s":"G22","k":13.19,"e":-4.18},
{"s":"G23","k":10.68,"e":-4.21},{"s":"G23","k":10.97,"e":-4.21},{"s":"G23","k":11.59,"e":-4.10},{"s":"G23","k":11.84,"e":-4.02},{"s":"G23","k":12.14,"e":-4.19},{"s":"G23","k":12.47,"e":-4.39},{"s":"G23","k":12.80,"e":-4.48},{"s":"G23","k":13.19,"e":-4.52},
{"s":"G24","k":10.68,"e":-4.21},{"s":"G24","k":10.97,"e":-4.25},{"s":"G24","k":11.59,"e":-4.34},{"s":"G24","k":12.30,"e":-4.39},{"s":"G24","k":13.19,"e":-4.52},

{"s":"H1","k":13.19,"e":-1.27},{"s":"H1","k":13.40,"e":-1.29},{"s":"H1","k":13.67,"e":-1.36},{"s":"H1","k":13.93,"e":-1.42},
{"s":"H2","k":13.19,"e":-1.59},{"s":"H2","k":13.47,"e":-1.56},{"s":"H2","k":13.74,"e":-1.49},{"s":"H2","k":13.93,"e":-1.45},
{"s":"H3","k":13.19,"e":-1.80},{"s":"H3","k":13.93,"e":-1.80},
{"s":"H4","k":13.19,"e":-1.96},{"s":"H4","k":13.93,"e":-1.99},
{"s":"H5","k":13.19,"e":-2.05},{"s":"H5","k":13.93,"e":-2.04},
{"s":"H6","k":13.19,"e":-2.54},{"s":"H6","k":13.93,"e":-2.50},
{"s":"H7","k":13.19,"e":-2.74},{"s":"H7","k":13.93,"e":-2.74},
{"s":"H8","k":13.19,"e":-2.99},{"s":"H8","k":13.93,"e":-3.01},
{"s":"H9","k":13.19,"e":-3.45},{"s":"H9","k":13.93,"e":-3.48},
{"s":"H10","k":13.19,"e":-3.59},{"s":"H10","k":13.93,"e":-3.57},
{"s":"H11","k":13.19,"e":-3.92},{"s":"H11","k":13.40,"e":-3.92},{"s":"H11","k":13.67,"e":-3.96},{"s":"H11","k":13.93,"e":-3.99},
{"s":"H12","k":13.19,"e":-4.28},{"s":"H12","k":13.47,"e":-4.26},{"s":"H12","k":13.74,"e":-4.23},{"s":"H12","k":13.93,"e":-4.21}
]
},
"layer": [
{
"data": {"name": "sym"},
"mark": {"type": "rule", "color": "#a0a0a0", "strokeWidth": 1, "strokeDash": [3, 4]},
"encoding": {
"x": {"field": "k", "type": "quantitative", "scale": {"domain": [0, 13.93], "nice": false, "zero": false}}
}
},
{
"data": {"name": "fermi"},
"mark": {"type": "rule", "color": "#56B4E9", "strokeWidth": 1.5},
"encoding": {
"y": {"field": "e", "type": "quantitative", "scale": {"domain": [-5, 2], "nice": false},
"axis": {"orient": "right", "values": [-5, -4, -3, -2, -1, 0, 1, 2], "labels": false, "tickSize": -11, "tickColor": "#000", "tickWidth": 1.5, "domain": false, "grid": false, "title": null}}
}
},
{
"data": {"name": "jumps"},
"mark": {"type": "line", "color": "#000", "strokeWidth": 1.8},
"encoding": {
"x": {"field": "k", "type": "quantitative", "scale": {"domain": [0, 13.93], "nice": false, "zero": false}},
"y": {"field": "e", "type": "quantitative", "scale": {"domain": [-5, 2], "nice": false}, "axis": null},
"detail": {"field": "s", "type": "nominal"}
}
},
{
"data": {"name": "bands"},
"mark": {"type": "line", "color": "#000", "strokeWidth": 1.8, "strokeJoin": "round", "interpolate": "monotone"},
"encoding": {
"x": {"field": "k", "type": "quantitative", "scale": {"domain": [0, 13.93], "nice": false, "zero": false},
"axis": {"values": [0, 2.14, 2.67, 3.8, 5.67, 7.17, 8.32, 9.15, 10.68, 11.59, 13.19, 13.93],
"labelExpr": "datum.value == 0 ? 'Γ' : datum.value == 2.14 ? 'X' : datum.value == 2.67 ? 'Y' : datum.value == 3.8 ? 'Sigma' : datum.value == 5.67 ? 'Γ' : datum.value == 7.17 ? 'Z' : datum.value == 8.32 ? 'Sigma₁' : datum.value == 9.15 ? 'N' : datum.value == 10.68 ? 'P' : datum.value == 11.59 ? 'Y₁' : datum.value == 13.19 ? 'Z\u00a0\u00a0\u00a0X' : 'P'",
"tickSize": -10, "tickColor": "#000", "tickWidth": 1.5, "labelPadding": 45, "labelBaseline": "alphabetic",
"labelFont": {"condition": {"test": "datum.value == 0 || datum.value == 5.67", "value": "Liberation Serif"}, "value": "Liberation Sans"},
"labelFontSize": 23, "labelColor": "#000",
"labelFlush": false, "labelOverlap": false, "grid": false, "domain": false, "title": null}},
"y": {"field": "e", "type": "quantitative", "scale": {"domain": [-5, 2], "nice": false},
"axis": {"values": [-5, -4, -3, -2, -1, 0, 1, 2], "labelExpr": "'' + datum.value", "tickSize": -11, "tickColor": "#000", "tickWidth": 1.5,
"labelPadding": 30, "labelFont": "Liberation Sans", "labelFontSize": 22, "labelColor": "#000",
"grid": false, "domain": false, "title": null}},
"detail": {"field": "s", "type": "nominal"}
}
}
],
"resolve": {"axis": {"y": "independent"}},
"config": {"view": {"stroke": "#000", "strokeWidth": 1.5}, "axis": {"domain": false}}
}
